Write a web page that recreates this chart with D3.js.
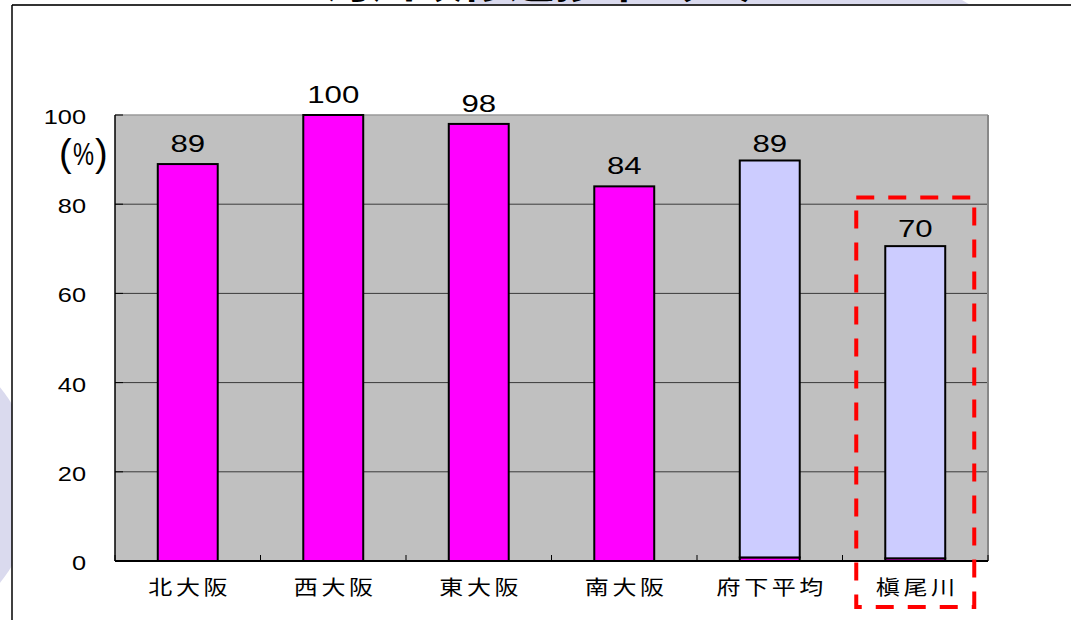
<!DOCTYPE html>
<html>
<head>
<meta charset="utf-8">
<script src="https://cdn.jsdelivr.net/npm/d3@7"></script>
<style>
  body { margin: 0; background: #fff; }
  svg { display: block; }
</style>
</head>
<body>
<svg id="chart" width="1071" height="620"></svg>
<script>
// Category names along the x axis
const categories = ["北大阪", "西大阪", "東大阪", "南大阪", "府下平均", "槇尾川"];
// Magenta series (regional rates, %)
const regionRates = [89, 100, 98, 84, 0.8, 0.6];
// Lavender series (average / Makio river, %)
const comparisonRates = [0, 0, 0, 0, 89, 70];
// Y axis tick values
const yTicks = [0, 20, 40, 60, 80, 100];
const titleText = "河川改修進捗率（％）";
const highlighted = "槇尾川";

const W = 1071, H = 620;
const svg = d3.select("#chart");
const numFont = "'Liberation Sans', Arial, sans-serif";
const cjkFont = "'Noto Sans CJK JP', 'Noto Sans CJK SC', sans-serif";
const stretch = 1.3;

// background decorations
svg.append("circle").attr("cx", -119).attr("cy", 485).attr("r", 154).attr("fill", "#dadaee");
svg.append("path")
  .attr("d", "M470,0 L962,0 L972,6 L470,6 Z")
  .attr("fill", "#dadaee");

// title (mostly above the frame)
svg.append("text")
  .attr("x", 555).attr("y", -3)
  .attr("text-anchor", "middle")
  .attr("font-family", cjkFont)
  .attr("font-weight", "bold")
  .attr("font-size", 46)
  .attr("fill", "#000")
  .text(titleText);

// white panel with frame
svg.append("rect").attr("x", 12).attr("y", 5).attr("width", W - 12).attr("height", H - 5).attr("fill", "#fff");
svg.append("line").attr("x1", 12).attr("x2", W).attr("y1", 5).attr("y2", 5).attr("stroke", "#333").attr("stroke-width", 2);
svg.append("line").attr("x1", 12).attr("x2", 12).attr("y1", 5).attr("y2", H).attr("stroke", "#000").attr("stroke-width", 1.5);

// scales
const x = d3.scaleBand().domain(categories).range([115, 988]).paddingInner(0.588).paddingOuter(0.294);
const y = d3.scaleLinear().domain([0, 100]).range([561, 115]);

// plot area
const [x0, x1] = x.range();
svg.append("rect")
  .attr("x", x0).attr("y", y(100))
  .attr("width", x1 - x0).attr("height", y(0) - y(100))
  .attr("fill", "#c0c0c0");

// gridlines
svg.append("g").selectAll("line")
  .data(yTicks.filter(t => t > 0 && t < 100))
  .join("line")
  .attr("x1", x0).attr("x2", x1)
  .attr("y1", d => y(d)).attr("y2", d => y(d))
  .attr("stroke", "#3a3a3a").attr("stroke-width", 1);

// plot borders
svg.append("line").attr("x1", x0).attr("x2", x1).attr("y1", y(100)).attr("y2", y(100)).attr("stroke", "#9a9a9a").attr("stroke-width", 1.5);
svg.append("line").attr("x1", x1).attr("x2", x1).attr("y1", y(100)).attr("y2", y(0)).attr("stroke", "#888").attr("stroke-width", 2);

// stacked bars
const table = categories.map((c, i) => ({ category: c, region: regionRates[i], comparison: comparisonRates[i] }));
const stack = d3.stack().keys(["region", "comparison"])(table);
const fills = { region: "#ff00ff", comparison: "#ccccff" };

stack.forEach(layer => {
  svg.append("g").selectAll("rect")
    .data(layer.filter(d => d[1] - d[0] > 0))
    .join("rect")
    .attr("x", d => x(d.data.category))
    .attr("width", x.bandwidth())
    .attr("y", d => y(d[1]))
    .attr("height", d => y(d[0]) - y(d[1]))
    .attr("fill", fills[layer.key])
    .attr("stroke", "#000")
    .attr("stroke-width", 2);
});

// value labels
svg.append("g").selectAll("text")
  .data(table)
  .join("text")
  .attr("transform", d => {
    const v = d.comparison > 0 ? d.comparison : d.region;
    return `translate(${x(d.category) + x.bandwidth() / 2},${y(v) - 12}) scale(${stretch},1)`;
  })
  .attr("text-anchor", "middle")
  .attr("font-family", numFont)
  .attr("font-size", 24)
  .attr("fill", "#000")
  .text(d => d.comparison > 0 ? d.comparison : d.region);

// y axis
const yAxis = svg.append("g");
yAxis.append("line").attr("x1", x0).attr("x2", x0).attr("y1", y(100)).attr("y2", y(0)).attr("stroke", "#000").attr("stroke-width", 1.5);
yAxis.selectAll("line.tick")
  .data(yTicks)
  .join("line")
  .attr("class", "tick")
  .attr("x1", x0).attr("x2", x0 + 8)
  .attr("y1", d => y(d)).attr("y2", d => y(d))
  .attr("stroke", "#000").attr("stroke-width", 1);
yAxis.selectAll("text")
  .data(yTicks)
  .join("text")
  .attr("transform", d => `translate(86,${y(d) + 9}) scale(${stretch},1)`)
  .attr("text-anchor", "end")
  .attr("font-family", numFont)
  .attr("font-size", 19.5)
  .attr("fill", "#000")
  .text(d => d);

// unit label
const unit = svg.append("g").attr("font-family", numFont).attr("fill", "#000");
unit.append("text").attr("x", 59).attr("y", 166).attr("font-size", 38).text("(");
unit.append("text").attr("transform", "translate(73,165) scale(0.74,1)").attr("font-size", 32).text("%");
unit.append("text").attr("x", 95).attr("y", 166).attr("font-size", 38).text(")");

// x axis
const xAxis = svg.append("g");
xAxis.append("line").attr("x1", x0).attr("x2", x1).attr("y1", y(0)).attr("y2", y(0)).attr("stroke", "#000").attr("stroke-width", 2);
const step = x.step();
xAxis.selectAll("line.tick")
  .data(d3.range(categories.length + 1))
  .join("line")
  .attr("class", "tick")
  .attr("x1", i => x0 + i * step).attr("x2", i => x0 + i * step)
  .attr("y1", y(0)).attr("y2", y(0) - 6)
  .attr("stroke", "#000").attr("stroke-width", 1);
xAxis.selectAll("text")
  .data(categories)
  .join("text")
  .attr("transform", d => `translate(${x(d) + x.bandwidth() / 2 + 2},${y(0) + 34}) scale(1.2,1)`)
  .attr("text-anchor", "middle")
  .attr("font-family", cjkFont)
  .attr("font-size", 20)
  .attr("letter-spacing", 3)
  .attr("fill", "#000")
  .text(d => d);

// highlight box around the Makio river bar
const hc = x(highlighted) + x.bandwidth() / 2;
svg.append("rect")
  .attr("x", hc - 59).attr("y", y(81.5))
  .attr("width", 118).attr("height", y(0) + 46 - y(81.5))
  .attr("fill", "none")
  .attr("stroke", "#ff0000")
  .attr("stroke-width", 4)
  .attr("stroke-dasharray", "18 14");
</script>
</body>
</html>
